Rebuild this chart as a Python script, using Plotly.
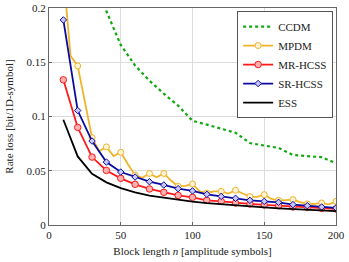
import plotly.graph_objects as go

# ---- data ----
n_mpdm = list(range(10, 205, 5))
mpdm = [0.232, 0.156, 0.1466, 0.112, 0.0805, 0.068, 0.0720, 0.0635, 0.0670, 0.056,
        0.0460, 0.0435, 0.0475, 0.0440, 0.0475, 0.041, 0.0356, 0.036, 0.0378, 0.031,
        0.0295, 0.031, 0.0310, 0.029, 0.0320, 0.029, 0.0262, 0.026, 0.0280, 0.024,
        0.0227, 0.023, 0.0234, 0.021, 0.0194, 0.0195, 0.0203, 0.019, 0.0218]

n10 = list(range(10, 210, 10))
mr_hcss = [0.1338, 0.0899, 0.0626, 0.0503, 0.0430, 0.0375, 0.0332, 0.0301, 0.0273, 0.0255,
           0.0227, 0.0218, 0.0203, 0.0194, 0.0185, 0.0178, 0.0166, 0.0163, 0.0154, 0.0148]
sr_hcss = [0.189, 0.1055, 0.0774, 0.0580, 0.0488, 0.0442, 0.0399, 0.0369, 0.0335, 0.0314,
           0.0283, 0.0264, 0.0246, 0.0227, 0.0218, 0.0209, 0.0188, 0.0178, 0.0166, 0.0157]
ess = [0.097, 0.0632, 0.0472, 0.0393, 0.0340, 0.0300, 0.0270, 0.0250, 0.0232, 0.0215,
       0.0201, 0.0190, 0.0179, 0.0170, 0.0162, 0.0154, 0.0147, 0.0141, 0.0135, 0.0128]

n_ccdm = [30, 40, 50, 60, 70, 80, 90, 100, 110, 120, 130, 140, 150, 160, 170, 180, 190, 200]
ccdm = [0.24, 0.197, 0.166, 0.147, 0.133, 0.121, 0.110, 0.096, 0.0925, 0.089, 0.085,
        0.0755, 0.073, 0.071, 0.0645, 0.0638, 0.0625, 0.057]

x_ticks = [0, 50, 100, 150, 200]
y_ticks = [0, 0.05, 0.1, 0.15, 0.2]
y_tick_labels = ["0", "0.05", "0.1", "0.15", "0.2"]

# ---- styling ----
ORANGE = "#f0b428"
RED = "#ff1a1a"
BLUE = "#0a0aa0"
GREEN = "#10a810"
FONT = "Liberation Serif, Times New Roman, serif"

fig = go.Figure()

fig.add_trace(go.Scatter(
    x=n_ccdm, y=ccdm, name="CCDM", mode="lines",
    line=dict(color=GREEN, width=2.2, dash="dot")))

mk_col = ["#fff4d8" if n % 10 == 0 else "rgba(0,0,0,0)" for n in n_mpdm]
mk_line = [ORANGE if n % 10 == 0 else "rgba(0,0,0,0)" for n in n_mpdm]
fig.add_trace(go.Scatter(
    x=n_mpdm, y=mpdm, name="MPDM", mode="lines+markers",
    line=dict(color=ORANGE, width=1.8),
    marker=dict(symbol="circle", size=6, color=mk_col,
                line=dict(color=mk_line, width=1))))

fig.add_trace(go.Scatter(
    x=n10, y=mr_hcss, name="MR-HCSS", mode="lines+markers",
    line=dict(color=RED, width=1.8),
    marker=dict(symbol="circle", size=6.5, color="#ffb0b0",
                line=dict(color=RED, width=1))))

fig.add_trace(go.Scatter(
    x=n10, y=sr_hcss, name="SR-HCSS", mode="lines+markers",
    line=dict(color=BLUE, width=1.8),
    marker=dict(symbol="diamond", size=5, color="#c8c8ff",
                line=dict(color=BLUE, width=1))))

fig.add_trace(go.Scatter(
    x=n10, y=ess, name="ESS", mode="lines",
    line=dict(color="black", width=1.8)))

fig.update_layout(
    width=349, height=262,
    margin=dict(l=49, r=13, t=8, b=37),
    paper_bgcolor="white", plot_bgcolor="white",
    font=dict(family=FONT, size=11, color="#222"),
    showlegend=True,
    legend=dict(x=0.99, y=0.986, xanchor="right", yanchor="top",
                bgcolor="white", bordercolor="#555", borderwidth=1,
                font=dict(family=FONT, size=11),
                tracegroupgap=0, itemwidth=30),
)

fig.update_xaxes(
    range=[0, 200], tickvals=x_ticks, ticktext=[str(v) for v in x_ticks],
    automargin=False,
    showgrid=True, gridcolor="#dcdcdc", gridwidth=1,
    showline=True, linecolor="#666", linewidth=1.2, mirror=True,
    zeroline=False, ticks="inside", ticklen=3, tickcolor="#666",
    tickfont=dict(family=FONT, size=11),
    title=dict(text="Block length <i>n</i> [amplitude symbols]",
               font=dict(family=FONT, size=11), standoff=7),
)
fig.update_yaxes(
    range=[0, 0.2], tickvals=y_ticks, ticktext=y_tick_labels,
    automargin=False,
    showgrid=True, gridcolor="#dcdcdc", gridwidth=1,
    showline=True, linecolor="#666", linewidth=1.2, mirror=True,
    zeroline=False, ticks="inside", ticklen=3, tickcolor="#666",
    tickfont=dict(family=FONT, size=11),
    title=dict(text="Rate loss [bit/1D-symbol]",
               font=dict(family=FONT, size=11), standoff=10),
)

fig.write_html("out.html", config={"displayModeBar": False},
               post_script="document.body.style.margin='0';")
